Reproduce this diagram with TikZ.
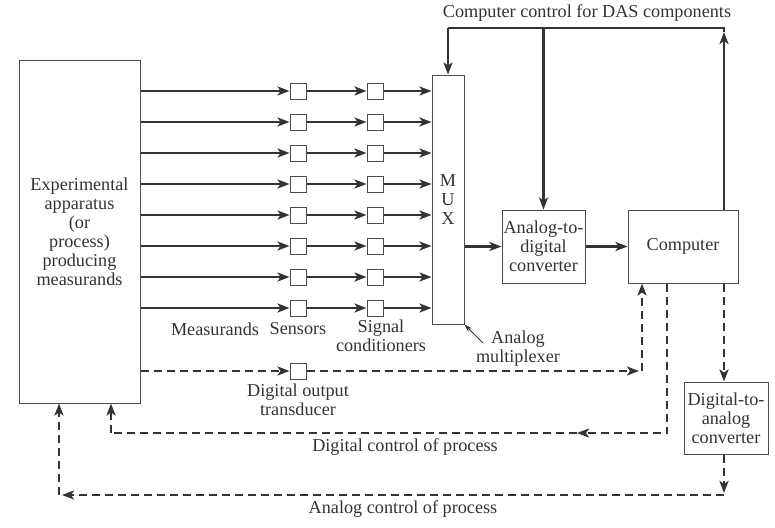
\documentclass[tikz,border=0pt]{standalone}
\usepackage{fontspec}
\setmainfont{Liberation Serif}
\usepackage{tikz}
\usetikzlibrary{arrows.meta,calc,positioning}

\begin{document}
\begin{tikzpicture}[x=1pt,y=-1pt,
  every node/.style={font=\fontsize{18.2}{19}\selectfont,text=black!80},
  blk/.style={draw=black!70,line width=1pt,inner sep=0pt,align=center},
  sq/.style={blk,minimum width=16pt,minimum height=16pt},
  sig/.style={draw=black!80,line width=2.2pt,-{Stealth[length=12pt,width=9pt,inset=3pt]}},
  dsh/.style={sig,dash pattern=on 8pt off 5pt},
  lbl/.style={align=center,inner sep=0pt},
  thin/.style={draw=black!80,line width=1pt,-{Stealth[length=8pt,width=5pt]}}]
\useasboundingbox (0,0) rectangle (775,527);
\node[blk,minimum width=121pt,minimum height=343pt] (exp) at (79.5,231.5)
  {Experimental\\apparatus\\(or\\process)\\producing\\measurands};
\node[blk,minimum width=32pt,minimum height=249pt] (mux) at (448,199.5) {M\\U\\X};
\node[blk,minimum width=83pt,minimum height=73pt] (adc) at (543.5,246.5)
  {Analog-to-\\digital\\converter};
\node[blk,minimum width=110pt,minimum height=73pt] (comp) at (683,246.5) {Computer};
\node[blk,minimum width=84pt,minimum height=72pt] (dac) at (726,418)
  {Digital-to-\\analog\\converter};
\foreach \k in {1,...,8} {
  \node[sq] (s\k) at (298,60+31*\k) {};
  \node[sq] (c\k) at (375,60+31*\k) {};
  \draw[sig] (exp.east |- s\k) -- (s\k);
  \draw[sig] (s\k) -- (c\k);
  \draw[sig] (c\k) -- (mux.west |- c\k);
}
\draw[sig] (mux.east |- adc) -- (adc);
\draw[sig] (adc) -- (comp);
\coordinate (tl) at (448,28);
\coordinate (tr) at (724,28);
\draw[sig] (comp.north -| tr) -- ($(tr)+(0,4)$);
\draw[sig,-] ($(tr)+(0,4)$) -- (tr) -- (tl);
\draw[sig] (tl) -- (mux.north);
\draw[sig] (tl -| adc) -- (adc.north);
\node (title) at (587,13) {Computer control for DAS components};
\node[sq] (dot) at (298,371) {};
\coordinate (dc) at (642,371);
\draw[dsh] (exp.east |- dot) -- (dot);
\draw[dsh,shorten >=3pt] (dot) -- (dc);
\draw[dsh] (dc) -- (comp.south -| dc);
\coordinate (gc) at (667,433);
\coordinate (gm) at (577,433);
\coordinate (gl) at (111,433);
\draw[dsh] (comp.south -| gc) -- (gc) -- (gm);
\draw[dsh,-] (gm) -- (gl);
\draw[dsh] (gl) -- (exp.south -| gl);
\coordinate (ac) at (724,495);
\coordinate (al) at (59,495);
\draw[dsh] (comp.south -| ac) -- (dac.north -| ac);
\draw[dsh,shorten >=2pt] (dac.south -| ac) -- (ac);
\draw[dsh,shorten >=3pt] (ac) -- (al);
\draw[dsh] (al) -- (exp.south -| al);
\node[lbl] (meas) at (215,329) {Measurands};
\node[lbl] (sens) at (298,329) {Sensors};
\node[lbl,anchor=north] (cond) at (381,320) {Signal\\conditioners};
\node[lbl,anchor=north] (mxl) at (518,331) {Analog\\multiplexer};
\draw[thin] (483,343) -- (mux.south east);
\node[lbl,anchor=north] (dotl) at (298,384) {Digital output\\transducer};
\node[lbl] (dcl) at (405,447) {Digital control of process};
\node[lbl] (acl) at (403,509) {Analog control of process};
\end{tikzpicture}
\end{document}
